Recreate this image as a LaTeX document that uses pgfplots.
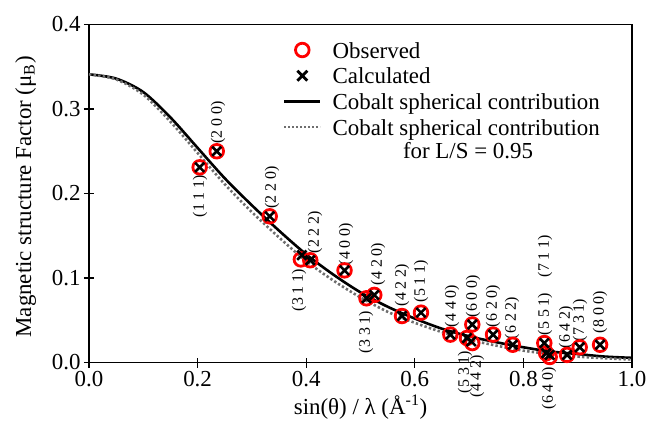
\documentclass[border=0pt]{standalone}
\usepackage{fontspec}
\setmainfont{Liberation Serif}
\usepackage{pgfplots}
\pgfplotsset{compat=1.18}
\usetikzlibrary{calc}
\definecolor{obsRed}{HTML}{FF0000}
\definecolor{dotGray}{HTML}{6E6E6E}
\newcommand{\mainfs}{\fontsize{23}{27}\selectfont}
\newcommand{\hklfs}{\fontsize{16}{18}\selectfont}
\pgfplotsset{
  markleg/.style={legend image code/.code={\draw[##1] plot coordinates {(18bp,0bp)};}},
  lineleg/.style={legend image code/.code={\draw[##1] (0bp,0bp) -- (36bp,0bp);}},
}

\begin{document}
\begin{tikzpicture}[hkl/.style={rotate=90, font=\hklfs, inner sep=0pt}]
\begin{axis}[
  scale only axis,
  width=543bp, height=338bp,
  xmin=0, xmax=1, ymin=0, ymax=0.4,
  xtick={0,0.2,0.4,0.6,0.8,1.0},
  ytick={0,0.1,0.2,0.3,0.4},
  xtick pos=bottom, ytick pos=left,
  tick align=center,
  major tick length=10bp,
  every tick/.style={black, line width=1.3bp},
  axis line style={line width=1.3bp},
  /pgf/number format/.cd, fixed, fixed zerofill, precision=1, assume math mode=true,
  /pgfplots/.cd,
  tick label style={font=\mainfs},
  label style={font=\mainfs},
  xlabel={sin(θ) / λ (Å\textsuperscript{-1})},
  ylabel={Magnetic structure Factor (μ\textsubscript{B})},
  xlabel style={at={(axis description cs:0.5,0)}, anchor=base, yshift=-52bp},
  ylabel style={at={(axis description cs:-0.1068,0.49)}, anchor=base},
  clip=false,
  legend style={draw=none, fill=none, inner sep=0pt, outer sep=0pt,
    at={(axis description cs:0.3573,0.9482)}, anchor=north west,
    column sep=11bp, row sep=9.7bp, font=\mainfs,
    nodes={inner sep=0pt, text height=16bp, text depth=0bp}},
  legend cell align=left,
]
% fitted curves
\addplot[forget plot, black, line width=2.6bp, smooth] coordinates {
  (0.00,0.341) (0.05,0.336) (0.10,0.320) (0.15,0.290) (0.20,0.254)
  (0.25,0.218) (0.30,0.186) (0.35,0.156) (0.40,0.128) (0.45,0.104)
  (0.50,0.083) (0.55,0.066) (0.60,0.052) (0.65,0.040) (0.70,0.031)
  (0.75,0.024) (0.80,0.018) (0.85,0.013) (0.90,0.010) (0.95,0.007)
  (1.00,0.0055)
};
\addplot[forget plot, dotGray, line width=2.6bp, dash pattern=on 2.4bp off 2.2bp, smooth] coordinates {
  (0.00,0.341) (0.05,0.335) (0.10,0.317) (0.15,0.285) (0.20,0.248)
  (0.25,0.211) (0.30,0.178) (0.35,0.148) (0.40,0.120) (0.45,0.097)
  (0.50,0.077) (0.55,0.060) (0.60,0.047) (0.65,0.036) (0.70,0.027)
  (0.75,0.020) (0.80,0.014) (0.85,0.010) (0.90,0.007) (0.95,0.005)
  (1.00,0.0035)
};
% observed
\addplot[forget plot, only marks, mark=o, mark size=6.8bp, draw=obsRed,
  mark options={line width=2.8bp}] coordinates {
  (0.2038,0.231) (0.2353,0.250) (0.3328,0.173) (0.3902,0.122) (0.4075,0.121)
  (0.4706,0.109) (0.5110,0.076) (0.5254,0.080) (0.5764,0.055) (0.6114,0.059)
  (0.6655,0.033) (0.6960,0.029) (0.7059,0.045) (0.7059,0.023) (0.7441,0.033)
  (0.7804,0.021) (0.8385,0.023) (0.8420,0.011) (0.8484,0.0065) (0.8804,0.009)
  (0.9037,0.018) (0.9412,0.021)
};
% calculated
\addplot[forget plot, only marks, mark=x, mark size=6.5bp, draw=black,
  mark options={line width=2.6bp}] coordinates {
  (0.2038,0.231) (0.2353,0.250) (0.3328,0.173) (0.3920,0.127) (0.4075,0.121)
  (0.4706,0.109) (0.5110,0.076) (0.5254,0.080) (0.5764,0.055) (0.6114,0.059)
  (0.6655,0.033) (0.6960,0.029) (0.7059,0.045) (0.7040,0.025) (0.7441,0.033)
  (0.7804,0.021) (0.8385,0.023) (0.8420,0.011) (0.8484,0.009) (0.8804,0.009)
  (0.9037,0.018) (0.9412,0.021)
};
\addlegendimage{only marks, mark=o, mark size=6.8bp, draw=obsRed, mark options={line width=2.8bp}, markleg}
\addlegendentry{Observed}
\addlegendimage{only marks, mark=x, mark size=7bp, draw=black, mark options={line width=2.8bp}, markleg}
\addlegendentry{Calculated}
\addlegendimage{black, line width=2.6bp, lineleg}
\addlegendentry{Cobalt spherical contribution}
\addlegendimage{dotGray, line width=2bp, dash pattern=on 2bp off 2bp, lineleg}
\addlegendentry{Cobalt spherical contribution}
\node[anchor=base, font=\mainfs, inner sep=0pt] at (axis cs:0.698,0.2420) {for L/S = 0.95};

% reflection labels
\node[hkl] at (axis cs:0.2044,0.1970) {(1 1 1)};
\node[hkl] at (axis cs:0.2376,0.2840) {(2 0 0)};
\node[hkl] at (axis cs:0.3370,0.2071) {(2 2 0)};
\node[hkl] at (axis cs:0.3867,0.0858) {(3 1 1)};
\node[hkl] at (axis cs:0.4162,0.1544) {(2 2 2)};
\node[hkl] at (axis cs:0.4733,0.1402) {(4 0 0)};
\node[hkl] at (axis cs:0.5100,0.0361) {(3 3 1)};
\node[hkl] at (axis cs:0.5322,0.1166) {(4 2 0)};
\node[hkl] at (axis cs:0.5764,0.0917) {(4 2 2)};
\node[hkl] at (axis cs:0.6114,0.0964) {(5 1 1)};
\node[hkl] at (axis cs:0.6685,0.0669) {(4 4 0)};
\node[hkl] at (axis cs:0.6924,-0.0112) {(5 3 1)};
\node[hkl] at (axis cs:0.7072,0.0787) {(6 0 0)};
\node[hkl] at (axis cs:0.7145,-0.0160) {(4 4 2)};
\node[hkl] at (axis cs:0.7440,0.0669) {(6 2 0)};
\node[hkl] at (axis cs:0.7790,0.0527) {(6 2 2)};
\node[hkl] at (axis cs:0.8398,0.0574) {(5 5 1)};
\node[hkl] at (axis cs:0.8398,0.1260) {(7 1 1)};
\node[hkl] at (axis cs:0.8471,-0.0302) {(6 4 0)};
\node[hkl] at (axis cs:0.8785,0.0420) {(6 4 2)};
\node[hkl] at (axis cs:0.9042,0.0503) {(7 3 1)};
\node[hkl] at (axis cs:0.9411,0.0598) {(8 0 0)};
\end{axis}
\pgfresetboundingbox
\path[use as bounding box] ($(current axis.south west)+(-89bp,-64.5bp)$) rectangle ($(current axis.north east)+(17bp,24.5bp)$);
\end{tikzpicture}
\end{document}
